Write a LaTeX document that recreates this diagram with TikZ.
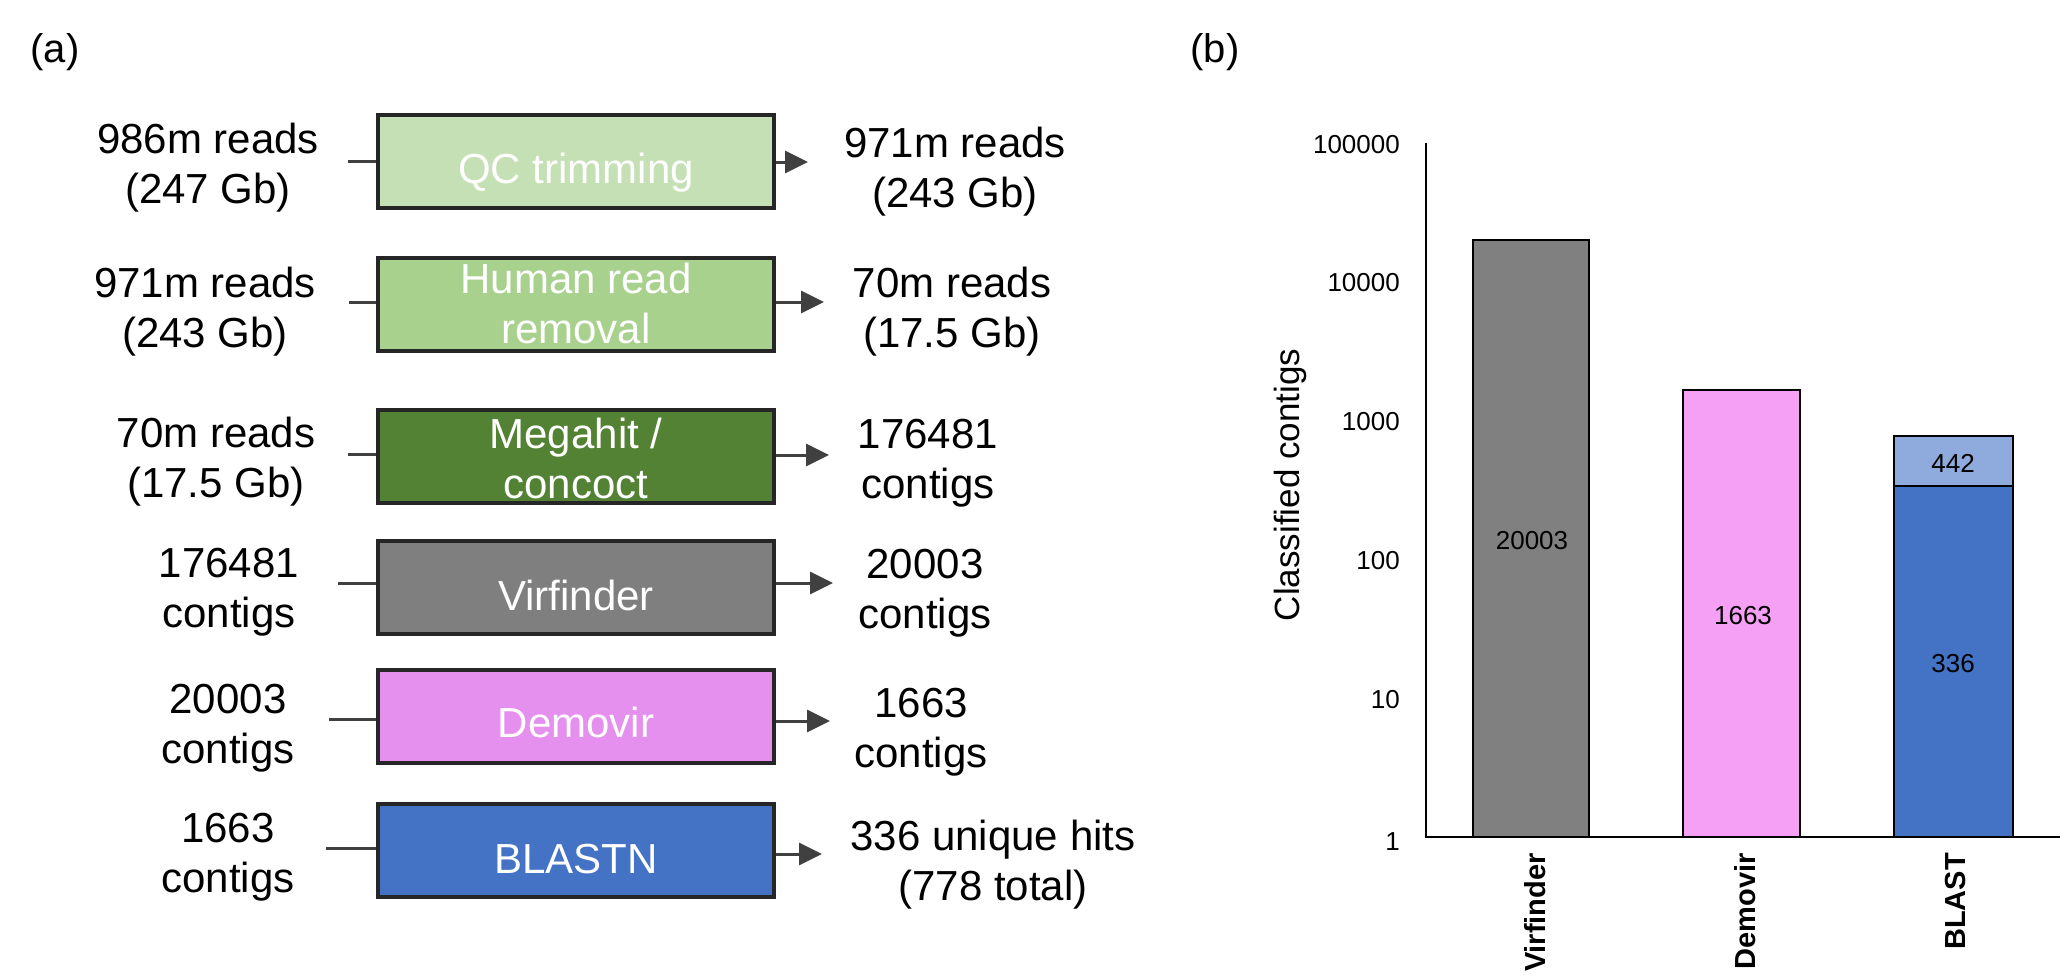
\documentclass[tikz,border=0pt]{standalone}
\usepackage{fontspec}
\setmainfont{Liberation Sans}
\usetikzlibrary{arrows.meta}
\definecolor{qc}{HTML}{C5E0B4}
\definecolor{hum}{HTML}{A9D18E}
\definecolor{meg}{HTML}{548235}
\definecolor{vir}{HTML}{7F7F7F}
\definecolor{demobox}{HTML}{E58FEE}
\definecolor{blastbox}{HTML}{4472C4}
\definecolor{bord}{HTML}{262626}
\definecolor{conncol}{HTML}{404040}
\definecolor{virbar}{HTML}{808080}
\definecolor{demobar}{HTML}{F59FF5}
\definecolor{blastlo}{HTML}{4472C4}
\definecolor{blasthi}{HTML}{8FAADC}
\newcommand\bigf{\fontsize{42}{50}\selectfont}
\newcommand\tickf{\fontsize{26}{30}\selectfont}
\newcommand\barf{\fontsize{26}{30}\selectfont}
\newcommand\ylabf{\fontsize{35}{42}\selectfont}
\newcommand\catf{\fontsize{29}{34}\selectfont\bfseries}
\begin{document}
\begin{tikzpicture}[x=1pt,y=-1pt,
  stage/.style={draw=bord, line width=4pt, minimum width=396pt, minimum height=93pt, inner sep=0pt},
  intext/.style={text=white, font=\bigf, align=center, inner sep=0pt},
  lab/.style={font=\bigf, align=center, inner sep=0pt},
  conn/.style={draw=conncol, line width=3pt},
  arr/.style={conn, -{Triangle[length=23pt,width=22pt]}},
  bar/.style={draw=black, line width=2pt},
  tick/.style={font=\tickf, anchor=east, inner sep=0pt},
  barlab/.style={font=\barf, inner sep=0pt},
  cat/.style={font=\catf, rotate=90, anchor=east, inner sep=0pt},
  axisline/.style={draw=black, line width=2.5pt}]
\useasboundingbox (0,0) rectangle (2060,979);

% panel labels
\node[lab, font=\fontsize{40}{48}\selectfont] (pa) at (55,52) {(a)};
\node[lab, font=\fontsize{40}{48}\selectfont] (pb) at (1215,52) {(b)};

% ---------- panel (a) ----------
\node[stage, fill=qc]       (b1) at (576,161.5) {};
\node[stage, fill=hum]      (b2) at (576,304) {};
\node[stage, fill=meg]      (b3) at (576,456.5) {};
\node[stage, fill=vir]      (b4) at (576,587.5) {};
\node[stage, fill=demobox]  (b5) at (576,716) {};
\node[stage, fill=blastbox] (b6) at (576,850) {};

\node[intext] (t1) at (576,173) {\strut QC trimming};
\node[intext] (t2) at (576,308) {\strut Human read\\\strut removal};
\node[intext] (t3) at (576,463) {\strut Megahit /\\\strut concoct};
\node[intext] (t4) at (576,600) {\strut Virfinder};
\node[intext] (t5) at (576,727) {\strut Demovir};
\node[intext] (t6) at (576,863) {\strut BLASTN};

% left labels
\node[lab] (l1) at (208,168) {\strut 986m reads\\\strut (247 Gb)};
\node[lab] (l2) at (205,312) {\strut 971m reads\\\strut (243 Gb)};
\node[lab] (l3) at (216,462) {\strut 70m reads\\\strut (17.5 Gb)};
\node[lab] (l4) at (229,592) {\strut 176481\\\strut contigs};
\node[lab] (l5) at (228,728) {\strut 20003\\\strut contigs};
\node[lab] (l6) at (228,857) {\strut 1663\\\strut contigs};

% right labels
\node[lab] (r1) at (955,172) {\strut 971m reads\\\strut (243 Gb)};
\node[lab] (r2) at (952,312) {\strut 70m reads\\\strut (17.5 Gb)};
\node[lab] (r3) at (928,463) {\strut 176481\\\strut contigs};
\node[lab] (r4) at (925,593) {\strut 20003\\\strut contigs};
\node[lab] (r5) at (921,732) {\strut 1663\\\strut contigs};
\node[lab] (r6) at (993,865) {\strut 336 unique hits\\\strut (778 total)};

% connector ends
\coordinate (s1) at (348,161);
\coordinate (s2) at (349,302);
\coordinate (s3) at (348,454);
\coordinate (s4) at (338,583);
\coordinate (s5) at (329,719);
\coordinate (s6) at (326,848);
\coordinate (e1) at (808,162);
\coordinate (e2) at (824,302);
\coordinate (e3) at (829,455);
\coordinate (e4) at (833,583);
\coordinate (e5) at (830,721);
\coordinate (e6) at (822,854);

\foreach \i in {1,...,6}{
  \draw[conn] (s\i) -- (s\i -| b\i.west);
  \draw[arr] (e\i -| b\i.east) -- (e\i);
}

% ---------- panel (b) ----------
\draw[bar, fill=virbar] (1473,837) rectangle (1589,240);
\draw[bar, fill=demobar] (1683,837) rectangle (1800,390);
\draw[bar, fill=blastlo] (1894,837) rectangle (2013,486);
\draw[bar, fill=blasthi] (1894,486) rectangle (2013,436);
\draw[axisline] (1426,143) -- (1426,837) -- (2060,837);

\node[tick] (y0) at (1400,842) {1};
\node[tick] (y1) at (1400,700) {10};
\node[tick] (y2) at (1400,561) {100};
\node[tick] (y3) at (1400,422) {1000};
\node[tick] (y4) at (1400,283) {10000};
\node[tick] (y5) at (1400,145) {100000};

\node[font=\ylabf, rotate=90, inner sep=0pt] (ylab) at (1290,485) {Classified contigs};

\node[barlab] (v1) at (1532,541) {20003};
\node[barlab] (v2) at (1743,616) {1663};
\node[barlab] (v3) at (1953,463) {442};
\node[barlab] (v4) at (1953,664) {336};

\node[cat] (c1) at (1535,853) {Virfinder};
\node[cat] (c2) at (1745,853) {Demovir};
\node[cat] (c3) at (1955,853) {BLAST};
\end{tikzpicture}
\end{document}
